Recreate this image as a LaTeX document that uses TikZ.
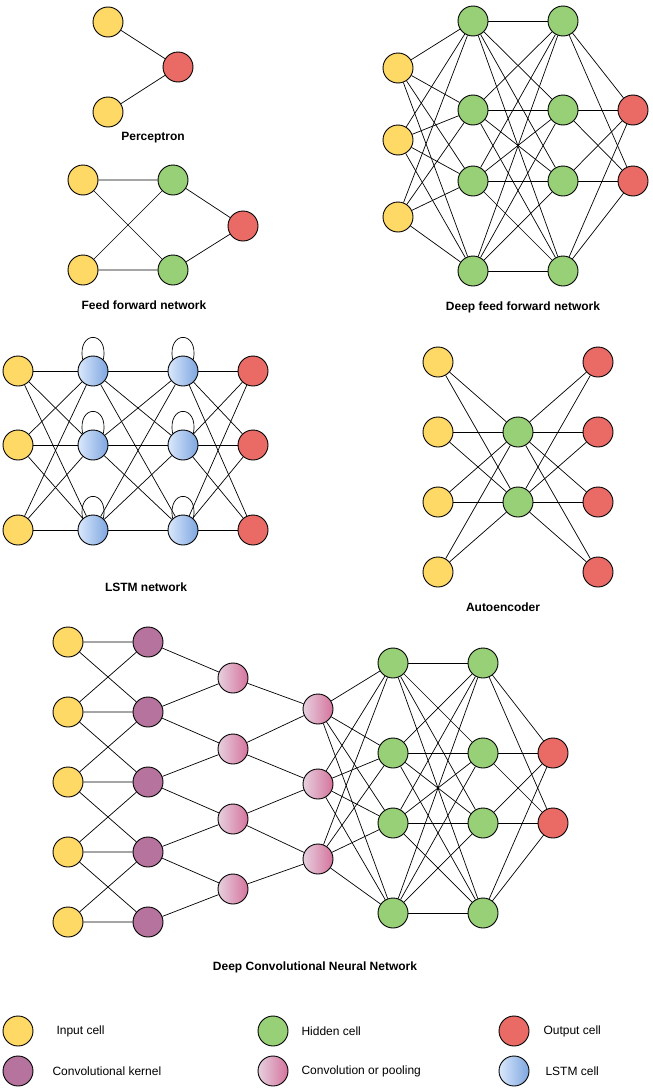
\documentclass[tikz,border=0pt]{standalone}
\usepackage{fontspec}
\setmainfont{Liberation Sans}
\usetikzlibrary{calc}
\definecolor{cinput}{HTML}{FFD966}
\definecolor{chidden}{HTML}{97D077}
\definecolor{coutput}{HTML}{EA6B66}
\definecolor{ckernel}{HTML}{B5739D}
\definecolor{cpoolL}{HTML}{E6D0DE}
\definecolor{cpoolR}{HTML}{D5739D}
\definecolor{clstmL}{HTML}{DAE8FC}
\definecolor{clstmR}{HTML}{7EA6E0}
\begin{document}
\begin{tikzpicture}[x=1pt,y=-1pt,
  cell/.style={circle,draw=black,line width=0.9pt,minimum size=30pt,inner sep=0pt},
  incell/.style={cell,fill=cinput},
  hidcell/.style={cell,fill=chidden},
  outcell/.style={cell,fill=coutput},
  kercell/.style={cell,fill=ckernel},
  poolcell/.style={cell,left color=cpoolL,right color=cpoolR},
  lstmcell/.style={cell,left color=clstmL,right color=clstmR},
  edge/.style={draw=black,line width=0.7pt},
  title/.style={font=\fontsize{12}{14}\selectfont\bfseries},
  legtext/.style={font=\fontsize{12}{14}\selectfont,anchor=west}]
\useasboundingbox[fill=white] (0,0) rectangle (653,1092);

% ---------- Perceptron ----------
\node[incell] (p1) at (108,22) {};
\node[incell] (p2) at (108,112) {};
\node[outcell] (po) at (178,67) {};
\draw[edge] (p1) -- (po) (p2) -- (po);
\node[title] (tp) at (153,138) {Perceptron};

% ---------- Feed forward ----------
\node[incell] (f1) at (83,180) {};
\node[incell] (f2) at (83,270) {};
\node[hidcell] (fh1) at (173,180) {};
\node[hidcell] (fh2) at (173,270) {};
\node[outcell] (fo) at (243,226) {};
\draw[edge] (f1) -- (fh1) (f1) -- (fh2) (f2) -- (fh1) (f2) -- (fh2) (fh1) -- (fo) (fh2) -- (fo);
\node[title] (tf) at (144,305) {Feed forward network};

% ---------- Deep feed forward ----------
\foreach \i/\y in {1/68,2/140,3/217} \node[incell] (di\i) at (398,\y) {};
\foreach \i/\y in {1/21,2/110,3/181,4/271} {
  \node[hidcell] (da\i) at (473,\y) {};
  \node[hidcell] (db\i) at (563,\y) {};
}
\foreach \i/\y in {1/110,2/181} \node[outcell] (dq\i) at (633,\y) {};
\foreach \i in {1,2,3} \foreach \j in {1,...,4} \draw[edge] (di\i) -- (da\j);
\foreach \i in {1,...,4} \foreach \j in {1,...,4} \draw[edge] (da\i) -- (db\j);
\foreach \i in {1,...,4} \foreach \j in {1,2} \draw[edge] (db\i) -- (dq\j);
\node[title] (td) at (523,307) {Deep feed forward network};

% ---------- LSTM ----------
\foreach \i/\y in {1/371,2/445,3/530} {
  \node[incell] (li\i) at (18,\y) {};
  \node[lstmcell] (la\i) at (93,\y) {};
  \node[lstmcell] (lb\i) at (183,\y) {};
  \node[outcell] (lo\i) at (253,\y) {};
}
\foreach \i in {1,2,3} \foreach \j in {1,2,3} {
  \draw[edge] (li\i) -- (la\j);
  \draw[edge] (la\i) -- (lb\j);
  \draw[edge] (lb\i) -- (lo\j);
}
\foreach \n in {la1,la2,la3,lb1,lb2,lb3}
  \draw[edge] (\n.132) .. controls ($(\n)+(-16,-41)$) and ($(\n)+(16,-41)$) .. (\n.48);
\node[title] (tl) at (146,587) {LSTM network};

% ---------- Autoencoder ----------
\foreach \i/\y in {1/362,2/432,3/502,4/572} {
  \node[incell] (ai\i) at (438,\y) {};
  \node[outcell] (ao\i) at (598,\y) {};
}
\node[hidcell] (ah1) at (518,432) {};
\node[hidcell] (ah2) at (518,502) {};
\foreach \i in {1,...,4} \foreach \j in {1,2} {
  \draw[edge] (ai\i) -- (ah\j);
  \draw[edge] (ah\j) -- (ao\i);
}
\node[title] (ta) at (503,607) {Autoencoder};

% ---------- Deep convolutional network ----------
\foreach \i/\y in {1/642,2/712,3/782,4/852,5/922} {
  \node[incell] (ci\i) at (68,\y) {};
  \node[kercell] (ck\i) at (148,\y) {};
}
\foreach \i/\y in {1/678,2/749,3/819,4/889} \node[poolcell] (cp\i) at (233,\y) {};
\foreach \i/\y in {1/709,2/784,3/859} \node[poolcell] (cq\i) at (318,\y) {};
\foreach \i/\y in {1/663,2/753,3/823,4/913} {
  \node[hidcell] (cg\i) at (393,\y) {};
  \node[hidcell] (ch\i) at (483,\y) {};
}
\node[outcell] (co1) at (553,753) {};
\node[outcell] (co2) at (553,823) {};
% input -> kernel (neighbours)
\draw[edge] (ci1) -- (ck1) (ci1) -- (ck2)
  (ci2) -- (ck1) (ci2) -- (ck2) (ci2) -- (ck3)
  (ci3) -- (ck2) (ci3) -- (ck3) (ci3) -- (ck4)
  (ci4) -- (ck3) (ci4) -- (ck4) (ci4) -- (ck5)
  (ci5) -- (ck4) (ci5) -- (ck5);
% kernel -> pooling 1
\draw[edge] (ck1) -- (cp1) (ck2) -- (cp1) (ck2) -- (cp2)
  (ck3) -- (cp2) (ck3) -- (cp3) (ck4) -- (cp3) (ck4) -- (cp4) (ck5) -- (cp4);
% pooling 1 -> pooling 2
\draw[edge] (cp1) -- (cq1) (cp2) -- (cq1) (cp2) -- (cq2)
  (cp3) -- (cq2) (cp3) -- (cq3) (cp4) -- (cq3);
\foreach \i in {1,2,3} \foreach \j in {1,...,4} \draw[edge] (cq\i) -- (cg\j);
\foreach \i in {1,...,4} \foreach \j in {1,...,4} \draw[edge] (cg\i) -- (ch\j);
\foreach \i in {1,...,4} \foreach \j in {1,2} \draw[edge] (ch\i) -- (co\j);
\node[title] (tc) at (315,967) {Deep Convolutional Neural Network};

% ---------- Legend ----------
\node[incell] (g1) at (18,1031) {};
\node[legtext] (g1t) at (53,1031) {Input cell};
\node[kercell] (g2) at (18,1071) {};
\node[legtext] (g2t) at (49,1071) {Convolutional kernel};
\node[hidcell] (g3) at (273,1031) {};
\node[legtext] (g3t) at (298,1031) {Hidden cell};
\node[poolcell] (g4) at (273,1071) {};
\node[legtext] (g4t) at (298,1071) {Convolution or pooling};
\node[outcell] (g5) at (514,1031) {};
\node[legtext] (g5t) at (540,1031) {Output cell};
\node[lstmcell] (g6) at (514,1071) {};
\node[legtext] (g6t) at (542,1071) {LSTM cell};
\end{tikzpicture}
\end{document}
